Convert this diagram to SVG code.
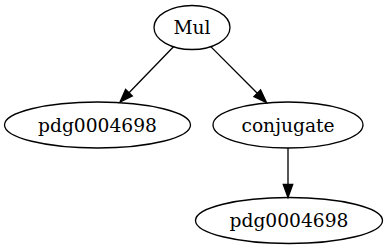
<svg xmlns="http://www.w3.org/2000/svg" width="387" height="251" viewBox="0 0 387 251">
<style>
.n ellipse{fill:none;stroke:#000;stroke-width:1.33}
.n text{font-family:"DejaVu Serif",serif;font-size:18.67px;text-anchor:middle;fill:#000}
.e line{stroke:#000;stroke-width:1.33}
.e polygon{fill:#000;stroke:#000;stroke-width:1.33}
</style>
<rect width="387" height="251" fill="#fff"/>
<g class="e" id="edges">
<line x1="173.5" y1="46.7" x2="129" y2="92.7"/>
<polygon points="132.4,96 120,102 125.6,89.4"/>
<line x1="210.8" y1="46.6" x2="257.3" y2="93.3"/>
<polygon points="254,96.6 266.5,102.5 260.6,90"/>
<line x1="288" y1="148" x2="288" y2="184.5"/>
<polygon points="283.3,184.5 288,197.5 292.7,184.5"/>
</g>
<g class="n" id="mul"><ellipse cx="192" cy="27.5" rx="38" ry="22"/><text x="192" y="34">Mul</text></g>
<g class="n" id="pdg1"><ellipse cx="97.5" cy="125" rx="93" ry="23"/><text x="97.5" y="131.5">pdg0004698</text></g>
<g class="n" id="conj"><ellipse cx="288" cy="125" rx="75" ry="23"/><text x="288" y="131.5">conjugate</text></g>
<g class="n" id="pdg2"><ellipse cx="289" cy="220.5" rx="93.5" ry="23"/><text x="289" y="227">pdg0004698</text></g>
</svg>
